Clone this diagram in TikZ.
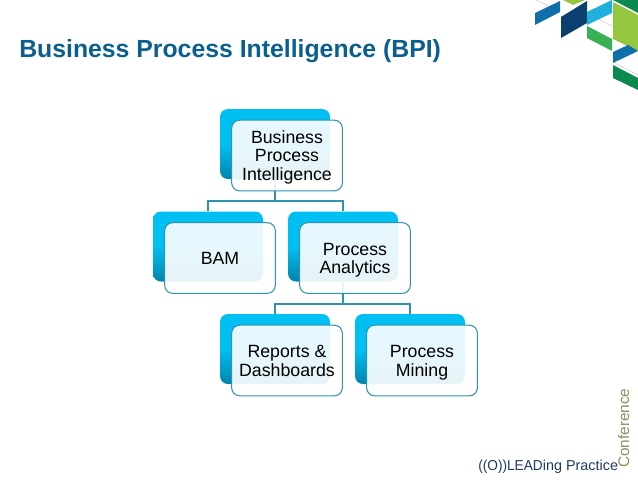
\documentclass[tikz,border=0pt]{standalone}
\usepackage{fontspec}
\setmainfont{Liberation Sans}
\newfontfamily\logofont[FakeStretch=0.95]{Liberation Sans}
\usepackage{xcolor}
\usetikzlibrary{positioning,calc}
\definecolor{titleblue}{HTML}{0B5F8F}
\definecolor{cardtop}{HTML}{00BFF3}
\definecolor{cardbot}{HTML}{0084AC}
\definecolor{cardline}{HTML}{2E93AE}
\definecolor{navy}{HTML}{0B3F6F}
\definecolor{midblue}{HTML}{0F6FA8}
\definecolor{skyblue}{HTML}{1FB0DC}
\definecolor{leaf}{HTML}{3AB054}
\definecolor{lime}{HTML}{94C73D}
\definecolor{pine}{HTML}{0B8A4F}
\definecolor{olive}{HTML}{84945A}
\definecolor{logoink}{HTML}{1F3A5F}
\newcommand{\capline}{\rule{0pt}{13.6pt}}
\newcommand{\lowline}{\rule[-4pt]{0pt}{0pt}}
\tikzset{
  backcard/.style={minimum width=82.5pt, minimum height=52.5pt, inner sep=0pt,
    rounded corners=6pt, top color=cardtop, bottom color=cardbot, middle color=cardtop},
  frontcard/.style={draw=cardline, line width=0.8pt, fill=white, fill opacity=0.9, text opacity=1,
    minimum width=83pt, minimum height=53pt, inner sep=0pt, rounded corners=6pt,
    align=center, font=\fontsize{13.3}{13.9}\selectfont},
  link/.style={draw=cardline, line width=0.8pt}
}
\begin{document}
\begin{tikzpicture}[x=0.75pt, y=-0.75pt]
  \useasboundingbox (0,0) rectangle (638,479);
  % title
  \node[anchor=base west, inner sep=0pt, text=titleblue, font=\fontsize{18.6}{20}\selectfont\bfseries] (title) at (19,57) {Business Process Intelligence (BPI)};
  % corner pattern
  \draw[gray!35, line width=0.5pt] (536,0) -- (560,11) (587,13) -- (612,26) (613,62) -- (638,75);
  \fill[midblue] (535,13) -- (560,1) -- (560,12) -- (535,25) -- cycle;
  \fill[lime] (563,0) -- (585,0) -- (573,5) -- cycle;
  \fill[navy] (561,17) -- (587,1) -- (587,23) -- (561,38) -- cycle;
  \fill[skyblue] (587,12) -- (612,0) -- (612,13) -- (587,25) -- cycle;
  \fill[leaf] (587,26) -- (612,39) -- (612,51) -- (587,38) -- cycle;
  \fill[lime] (613,2) -- (638,15) -- (638,51) -- (613,39) -- cycle;
  \fill[pine] (613,0) -- (638,0) -- (638,13) -- cycle;
  \fill[midblue] (613,52) -- (628,45) -- (638,51) -- (613,63) -- cycle;
  \fill[pine] (613,65) -- (638,78) -- (638,90) -- (613,78) -- cycle;
  % back cards
  \node[backcard] (bizback) at (275,144) {};
  \node[backcard] (bamback) at (208,246.5) {};
  \node[backcard] (paback) at (343,246.5) {};
  \node[backcard] (repback) at (275,349) {};
  \node[backcard] (minback) at (410,349) {};
  % links
  \coordinate (bizfork) at (275,201);
  \coordinate (pafork) at (343,304);
  \draw[link] (bizback.south) -- (bizfork) -| (bamback.north);
  \draw[link] (bizfork) -| (paback.north);
  \draw[link] (paback.south) -- (pafork) -| (repback.north);
  \draw[link] (pafork) -| (minback.north);
  % front cards
  \node[frontcard] (biz) at ($(bizback)+(12,11.5)$) {\capline Business\\Process\\Intelligence\lowline};
  \node[frontcard] (bam) at ($(bamback)+(12,11.5)$) {\capline BAM\lowline};
  \node[frontcard] (pa) at ($(paback)+(12,11.5)$) {\capline Process\\Analytics\lowline};
  \node[frontcard] (rep) at ($(repback)+(12,11.5)$) {\capline Reports \&\\Dashboards\lowline};
  \node[frontcard] (min) at ($(minback)+(12,11.5)$) {\capline Process\\Mining\lowline};
  % logo
  \node[anchor=base west, inner sep=0pt, text=logoink, font=\fontsize{10.8}{12}\selectfont] (logo) at (478,470) {{\logofont((O))LEAD}ing Practice};
  \node[anchor=base west, inner sep=0pt, rotate=90, text=olive, font=\fontsize{11.5}{12}\selectfont] (conf) at (629,468) {Conference};
\end{tikzpicture}
\end{document}
